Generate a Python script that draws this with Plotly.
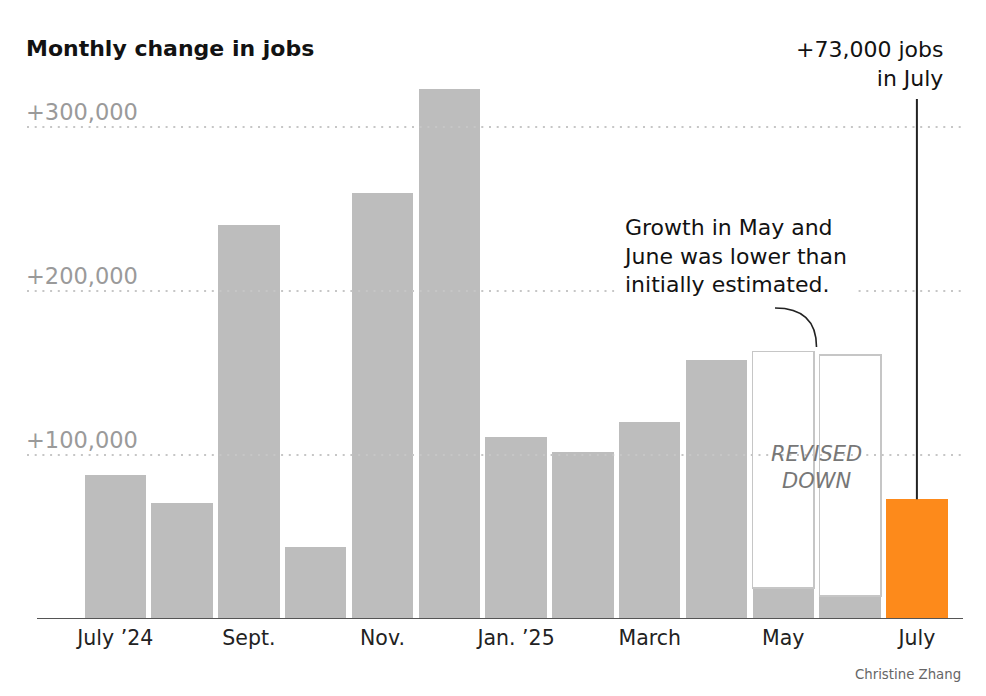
import plotly.graph_objects as go

# ---------------- data ----------------
months = ["July ’24", "Aug.", "Sept.", "Oct.", "Nov.", "Dec.", "Jan. ’25",
          "Feb.", "March", "April", "May", "June", "July"]
jobs_change = [88000, 71000, 240000, 44000, 260000, 323000, 111000,
               102000, 120000, 158000, 19000, 14000, 73000]
# initial estimates for May and June, drawn as outlines above the revised values
initial_estimate = [None, None, None, None, None, None, None,
                    None, None, None, 144000, 147000, None]
tick_months = ["July ’24", "Sept.", "Nov.", "Jan. ’25", "March", "May", "July"]
grid_values = [100000, 200000, 300000]

# ---------------- layout helpers ----------------
W, H = 986, 696
OFF = 8                                  # page body margin
L, R, T, B = 27, 963, 60, 619            # plot area in screen pixels
PX_PER_JOB = 1.64 / 1000                 # pixels per job
YMAX = (B - T) / PX_PER_JOB
FONT = "DejaVu Sans"


def px_x(p):
    return (p - L) / (R - L)


def px_y(p):
    return (B - p) / (B - T)


GRAY = "#bdbdbd"
ORANGE = "#fd8a1b"
colors = [ORANGE if m == months[-1] else GRAY for m in months]

fig = go.Figure()
fig.add_bar(x=months, y=jobs_change, marker=dict(color=colors, line=dict(width=0)),
            hoverinfo="skip", showlegend=False)
fig.add_bar(x=months, y=initial_estimate,
            marker=dict(color="white", line=dict(color="#c6c6c6", width=1.5)),
            hoverinfo="skip", showlegend=False)

shapes = []
annotations = []
for v in grid_values:
    shapes.append(dict(type="line", xref="paper", yref="y", x0=0, x1=1, y0=v, y1=v,
                       line=dict(color="#c6c6c6", width=2, dash="2px,5.7px"), layer="above"))
    annotations.append(dict(xref="paper", yref="y", x=0, y=v, xanchor="left", yanchor="bottom",
                            xshift=-3, yshift=0, showarrow=False, text="+{:,}".format(v),
                            font=dict(family=FONT, size=22.5, color="#9a9a9a")))

# baseline
shapes.append(dict(type="line", xref="paper", yref="y", x0=px_x(37), x1=1, y0=0, y1=0,
                   line=dict(color="#555555", width=2), layer="above"))

# July pointer line
shapes.append(dict(type="line", xref="x", yref="y", x0=months[-1], x1=months[-1],
                   y0=jobs_change[-1], y1=(B - 99) / PX_PER_JOB,
                   line=dict(color="#222222", width=2), layer="above"))

# curved connector
x0, y0 = px_x(775), px_y(308)
cx, cy = px_x(816.5), px_y(308)
x1, y1 = px_x(816.5), px_y(347)
shapes.append(dict(type="path", xref="paper", yref="paper",
                   path=f"M {x0},{y0} Q {cx},{cy} {x1},{y1}",
                   line=dict(color="#222222", width=1.6), layer="above"))

# title
annotations.append(dict(xref="paper", yref="paper", x=px_x(24), y=px_y(48.7),
                        xanchor="left", yanchor="middle", showarrow=False,
                        text="<b>Monthly change in jobs</b>",
                        font=dict(family=FONT, size=22, color="#121212")))
# July callout
annotations.append(dict(xref="paper", yref="paper", x=px_x(945), y=px_y(63.6),
                        xanchor="right", yanchor="middle", align="right", showarrow=False,
                        text="+73,000 jobs<br>in July",
                        font=dict(family=FONT, size=22, color="#121212")))
# revision note
annotations.append(dict(xref="paper", yref="paper", x=px_x(614), y=px_y(256),
                        xanchor="left", yanchor="middle", align="left", showarrow=False,
                        text="Growth in May and<br>June was lower than<br>initially estimated.",
                        bgcolor="white", borderpad=8,
                        font=dict(family=FONT, size=22, color="#121212")))
# revised down label
annotations.append(dict(xref="paper", yref="paper", x=px_x(816), y=px_y(467),
                        xanchor="center", yanchor="middle", align="center", showarrow=False,
                        text="REVISED<br>DOWN",
                        font=dict(family=FONT, size=21, color="#777777", style="italic")))
# credit
annotations.append(dict(xref="paper", yref="paper", x=1, y=px_y(674),
                        xanchor="right", yanchor="middle", showarrow=False,
                        text="Christine Zhang",
                        font=dict(family=FONT, size=13.3, color="#666666")))

cat_w = 66.8
c0 = 115.3
fig.update_layout(
    width=W, height=H,
    margin=dict(l=L - OFF, r=W - (R - OFF), t=T - OFF, b=H - (B - OFF), pad=0),
    paper_bgcolor="white", plot_bgcolor="white",
    barmode="stack", bargap=0.08,
    xaxis=dict(type="category", categoryorder="array", categoryarray=months,
               range=[(L - c0) / cat_w, (R - c0) / cat_w],
               showgrid=False, showline=False, zeroline=False, ticks="",
               tickmode="array", tickvals=tick_months, ticktext=tick_months,
               ticklabelstandoff=4,
               tickfont=dict(family=FONT, size=20.5, color="#222222")),
    yaxis=dict(range=[0, YMAX], showgrid=False, showline=False, zeroline=False,
               showticklabels=False, ticks=""),
    shapes=shapes, annotations=annotations,
    font=dict(family=FONT),
)

fig.write_html("out.html")
